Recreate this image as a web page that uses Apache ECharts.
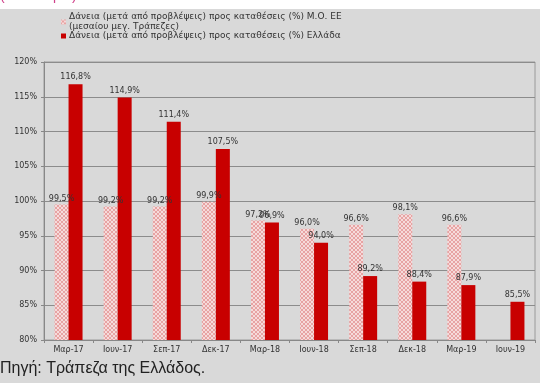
<!DOCTYPE html>
<html><head><meta charset="utf-8">
<script src="https://cdn.jsdelivr.net/npm/echarts@6/dist/echarts.min.js"></script>
<style>html,body{margin:0;padding:0;background:#fff}#c{width:540px;height:383px}</style>
</head><body><div id="c"></div>
<script>
var categories = ['Μαρ-17','Ιουν-17','Σεπ-17','Δεκ-17','Μαρ-18','Ιουν-18','Σεπ-18','Δεκ-18','Μαρ-19','Ιουν-19'];
var euValues = [99.5, 99.2, 99.2, 99.9, 97.2, 96.0, 96.6, 98.1, 96.6, null];
var grValues = [116.8, 114.9, 111.4, 107.5, 96.9, 94.0, 89.2, 88.4, 87.9, 85.5];
var yTicks = [80, 85, 90, 95, 100, 105, 110, 115, 120];
var euName = 'Δάνεια (μετά από προβλέψεις) προς καταθέσεις (%) Μ.Ο. ΕΕ\n(μεσαίου μεγ. Τράπεζες)';
var grName = 'Δάνεια (μετά από προβλέψεις) προς καταθέσεις (%) Ελλάδα';

var pc = document.createElement('canvas');
pc.width = 4; pc.height = 4;
var g = pc.getContext('2d');
g.fillStyle = '#f6dada'; g.fillRect(0,0,4,4);
g.fillStyle = '#e7a3a3';
for (var i = 0; i < 4; i++) { g.fillRect(i, i, 1, 1); g.fillRect(3 - i, i, 1, 1); }

function fmt(p){ return p.value == null ? '' : p.value.toFixed(1).replace('.', ',') + '%'; }

var chart = echarts.init(document.getElementById('c'));
chart.setOption({
  backgroundColor: '#fff',
  animation: false,
  graphic: [
    {type:'rect', shape:{x:0,y:9,width:540,height:374}, style:{fill:'#d9d9d9'}, z:-10},
    {type:'text', left: 0, top: -11, style:{text:'(εκατ. ευρώ)', fill:'#d0408a', font:'14px "Liberation Sans"'}, z:-9},
    {type:'text', left: 0, top: 361, style:{text:'Πηγή: Τράπεζα της Ελλάδος.', fill:'#222', font:'16px "Liberation Sans"'}}
  ],
  legend: {
    orient: 'vertical', left: 56, top: 7, itemWidth: 5, itemHeight: 5, itemGap: -1,
    textStyle: {fontFamily: 'DejaVu Sans', fontSize: 9, color: '#333', lineHeight: 10, padding:[0,0,0,-2]},
    data: [{name: euName, icon: 'rect'}, {name: grName, icon: 'rect'}]
  },
  grid: {left: 44, right: 5, top: 62, bottom: 43, show: true, borderColor: '#9a9a9a', borderWidth: 1, backgroundColor: 'transparent'},
  xAxis: {
    type: 'category', data: categories,
    axisLine: {lineStyle: {color: '#888'}},
    axisTick: {show: true, length: 3, lineStyle: {color: '#888'}},
    axisLabel: {fontFamily: 'DejaVu Sans', fontSize: 8, color: '#333', margin: 6}
  },
  yAxis: {
    type: 'value', min: yTicks[0], max: yTicks[yTicks.length-1], interval: 5,
    axisLine: {show: true, lineStyle: {color: '#888'}},
    axisTick: {show: true, length: 3, lineStyle: {color: '#888'}},
    splitLine: {lineStyle: {color: '#8c8c8c', width: 1}},
    axisLabel: {fontFamily: 'DejaVu Sans', fontSize: 8, color: '#333', margin: 7, formatter: '{value}%'}
  },
  series: [
    {name: euName, type: 'bar', data: euValues, barWidth: 14, barGap: '0%',
     itemStyle: {color: {image: pc, repeat: 'repeat'}},
     label: {show: true, position: 'top', distance: 2, fontFamily: 'DejaVu Sans', fontSize: 8, color: '#333', formatter: fmt}},
    {name: grName, type: 'bar', data: grValues, barWidth: 14,
     itemStyle: {color: '#c80000'},
     label: {show: true, position: 'top', distance: 3, fontFamily: 'DejaVu Sans', fontSize: 8, color: '#333', formatter: fmt}}
  ]
});
</script></body></html>
